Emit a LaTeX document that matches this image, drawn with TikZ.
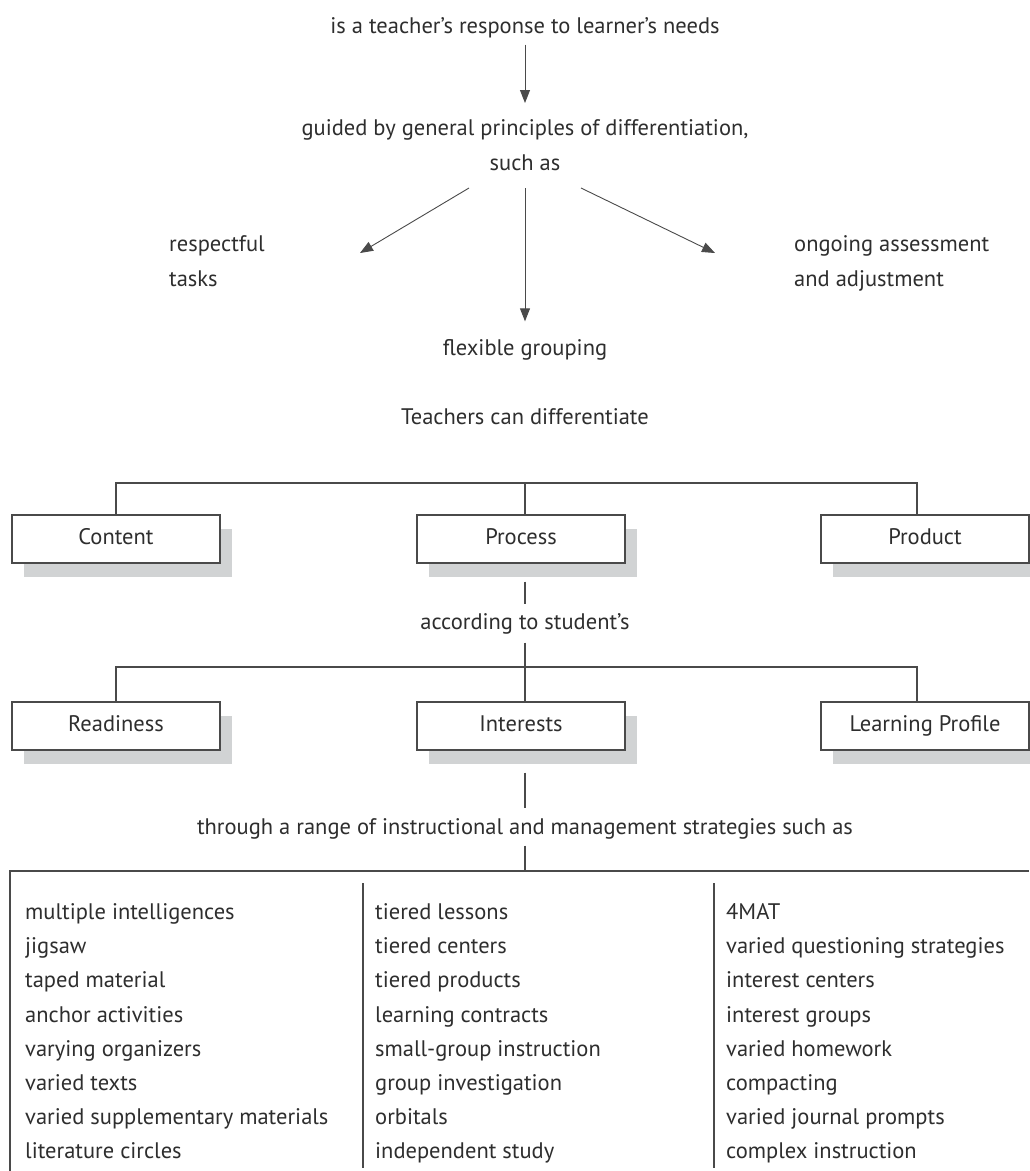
\documentclass[tikz,border=0pt]{standalone}
\usepackage{fontspec}
\setmainfont{PT Sans}
\usetikzlibrary{arrows.meta,positioning,shadows}
\definecolor{ink}{HTML}{2E2E2E}
\definecolor{rule}{HTML}{4A4A4A}
\definecolor{shade}{HTML}{D1D3D4}
\tikzset{font={\fontsize{22.5pt}{35}\selectfont}}

\begin{document}
\begin{tikzpicture}[x=1pt,y=-1pt,
txt/.style={text=ink,inner sep=0pt,text height=16pt,text depth=5pt,anchor=mid},
par/.style={text=ink,inner sep=0pt},
arr/.style={draw=rule,line width=0.9pt,-{Triangle[length=13pt,width=10pt]}},
con/.style={draw=rule,line width=1.1pt},
box/.style={draw=rule,line width=1.4pt,fill=white,text=ink,minimum width=208pt,minimum height=48pt,
  text height=16pt,text depth=5pt,
  drop shadow={shadow xshift=12pt,shadow yshift=-14pt,fill=shade,opacity=1}}
]
\fill[white] (0,0) rectangle (1029,1171);
\useasboundingbox (0,0) rectangle (1029,1171);

%principles
\node[txt] (resp) at (525,31) {is a teacher's response to learner's needs};
\node[par,align=center,anchor=base] (guided) at (525,170) {guided by general principles of differentiation,\\such as};
\node[par,align=left,anchor=base west] (tasks) at (169,286) {respectful\\tasks};
\node[par,align=left,anchor=base west] (assess) at (794,286) {ongoing assessment\\and adjustment};
\node[txt] (flex) at (525,353) {flexible grouping};
\node[txt] (teach) at (525,422) {Teachers can differentiate};

\coordinate (e0) at (525,103);
\coordinate (f1) at (469,188);
\coordinate (f2) at (525,188);
\coordinate (f3) at (581,188);
\coordinate (t1) at (360,253);
\coordinate (t3) at (715,253);
\draw[arr,shorten <=6pt] (resp.south) -- (e0);
\draw[arr] (f1) -- (t1);
\draw[arr,shorten >=18pt] (f2) -- (flex.north);
\draw[arr] (f3) -- (t3);

%what
\node[box] (content) at (116,539) {Content};
\node[box] (process) at (521,539) {Process};
\node[box] (product) at (925,539) {Product};
\coordinate (top1) at (525,483);
\draw[con] (content.north) |- (top1) -| ([xshift=-8pt]product.north);
\draw[con] (top1) -- (process.north -| top1);

\node[txt] (accord) at (525,627) {according to student's};
\draw[con,shorten <=18pt,shorten >=9pt] (process.south -| top1) -- (accord.north);

%according to
\node[box] (ready) at (116,726) {Readiness};
\node[box] (interest) at (521,726) {Interests};
\node[box] (profile) at (925,726) {Learning Profile};
\coordinate (top2) at (525,667);
\draw[con,shorten <=8pt] (accord.south) -- (top2);
\draw[con] (ready.north) |- (top2) -| ([xshift=-8pt]profile.north);
\draw[con] (top2) -- (interest.north -| top2);

\node[txt] (range) at (525,832) {through a range of instructional and management strategies such as};
\draw[con,shorten <=22pt,shorten >=10pt] (interest.south -| top2) -- (range.north);

%strategies
\coordinate (list) at (10,871);
\draw[con] (10,1171) -- (list) -- (1029,871);
\draw[con,shorten <=6pt] (range.south) -- (range.south |- list);
\draw[con] (363,883) -- (363,1168);
\draw[con] (714,883) -- (714,1168);

\foreach \s [count=\i] in {multiple intelligences,jigsaw,taped material,anchor activities,
  varying organizers,varied texts,varied supplementary materials,literature circles}
  \node[txt,anchor=mid west] (a\i) at (25,{917+34.2*(\i-1)}) {\s};
\foreach \s [count=\i] in {tiered lessons,tiered centers,tiered products,learning contracts,
  small-group instruction,group investigation,orbitals,independent study}
  \node[txt,anchor=mid west] (b\i) at (375,{917+34.2*(\i-1)}) {\s};
\foreach \s [count=\i] in {4MAT,varied questioning strategies,interest centers,interest groups,
  varied homework,compacting,varied journal prompts,complex instruction}
  \node[txt,anchor=mid west] (c\i) at (726,{917+34.2*(\i-1)}) {\s};

\end{tikzpicture}
\end{document}
